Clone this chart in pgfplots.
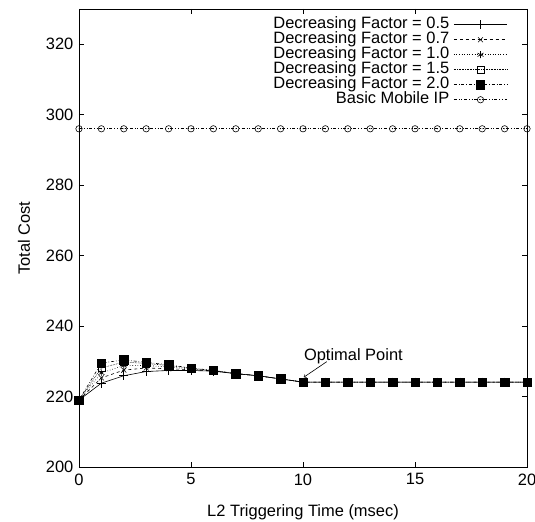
\documentclass[border=0pt]{standalone}
\usepackage{fontspec}
\setmainfont{Liberation Sans}
\usepackage{pgfplots}
\pgfplotsset{compat=1.18}
\usepackage{pgfplotstable}
\pgfdeclareplotmark{odot}{%
  \pgfpathcircle{\pgfpoint{0pt}{0pt}}{\pgfplotmarksize}\pgfusepath{stroke}%
  \pgfpathcircle{\pgfpoint{0pt}{0pt}}{0.5pt}\pgfusepath{fill}}
\pgfplotstableread{
x  a     b     c     d     e     f
0  219.0 219.0 219.0 219.0 219.0 296
1  223.8 225.3 226.7 228.1 229.5 296
2  225.9 227.5 228.8 229.8 230.4 296
3  227.1 228.1 228.8 229.4 229.7 296
4  227.4 227.9 228.4 228.8 229.0 296
5  227.4 227.6 227.8 228.0 228.1 296
6  227.2 227.3 227.3 227.4 227.4 296
7  226.5 226.5 226.5 226.5 226.5 296
8  225.9 225.9 225.9 225.9 225.9 296
9  225.0 225.0 225.0 225.0 225.0 296
10 224.1 224.1 224.1 224.1 224.1 296
11 224.1 224.1 224.1 224.1 224.1 296
12 224.1 224.1 224.1 224.1 224.1 296
13 224.1 224.1 224.1 224.1 224.1 296
14 224.1 224.1 224.1 224.1 224.1 296
15 224.1 224.1 224.1 224.1 224.1 296
16 224.1 224.1 224.1 224.1 224.1 296
17 224.1 224.1 224.1 224.1 224.1 296
18 224.1 224.1 224.1 224.1 224.1 296
19 224.1 224.1 224.1 224.1 224.1 296
20 224.1 224.1 224.1 224.1 224.1 296
}\data
\newcommand\chfont{\fontsize{16.5}{18}\selectfont}
\begin{document}
\chfont
\begin{tikzpicture}
\useasboundingbox (-79bp,-55bp) rectangle (456bp,467bp);
\begin{axis}[
  at={(0,0)}, anchor=south west,
  scale only axis, width=448bp, height=458bp,
  xmin=0, xmax=20, ymin=200, ymax=330,
  xtick={0,5,10,15,20}, xticklabels={0,5,10,15,20},
  ytick={200,220,240,260,280,300,320}, yticklabels={200,220,240,260,280,300,320},
  tick align=inside, major tick length=5bp,
  tick style={black, line width=0.5bp},
  axis line style={line width=0.7bp},
  tick label style={font=\chfont},
  xticklabel style={yshift=-1bp},
  /pgf/number format/assume math mode=true,
  xlabel={L2 Triggering Time (msec)},
  ylabel={Total Cost},
  label style={font=\chfont},
  xlabel style={at={(axis description cs:0.5,0)}, anchor=center, yshift=-45bp},
  ylabel style={at={(axis description cs:-0.1228,0.5)}, anchor=center},
  legend style={draw=none, fill=none, at={(0.959,0.9846)}, anchor=north east,
    font=\chfont, row sep=0bp, column sep=4bp, inner sep=1bp,
    nodes={inner sep=0.25bp, text height=11bp, text depth=3.5bp}},
  legend cell align=right,
  legend plot pos=right,
  legend image code/.code={\draw[mark repeat=2,mark phase=2,#1] plot coordinates {(0bp,0bp) (26.7bp,0bp) (53.3bp,0bp)};},
  every axis plot/.append style={black, line width=0.6bp},
]
\addplot[solid, mark=+, mark size=4.5bp, mark options={solid}] table[x=x,y=a]{\data};
\addlegendentry{Decreasing Factor = 0.5}
\addplot[dashed, mark=x, mark size=3.5bp, mark options={solid}] table[x=x,y=b]{\data};
\addlegendentry{Decreasing Factor = 0.7}
\addplot[dotted, mark=asterisk, mark size=3.5bp, mark options={solid}] table[x=x,y=c]{\data};
\addlegendentry{Decreasing Factor = 1.0}
\addplot[densely dotted, mark=square, mark size=3.5bp, mark options={solid}] table[x=x,y=d]{\data};
\addlegendentry{Decreasing Factor = 1.5}
\addplot[dash dot, mark=square*, mark size=4.2bp, mark options={solid}] table[x=x,y=e]{\data};
\addlegendentry{Decreasing Factor = 2.0}
\addplot[dash dot dot, mark=odot, mark size=3.2bp, mark options={solid}] table[x=x,y=f]{\data};
\addlegendentry{Basic Mobile IP}
\node[font=\chfont] at (axis cs:12.25,231.4) {Optimal Point};
\draw[->, line width=0.6bp] (axis cs:11.06,229.9) -- (axis cs:10.04,225.5);
\end{axis}
\end{tikzpicture}
\end{document}
